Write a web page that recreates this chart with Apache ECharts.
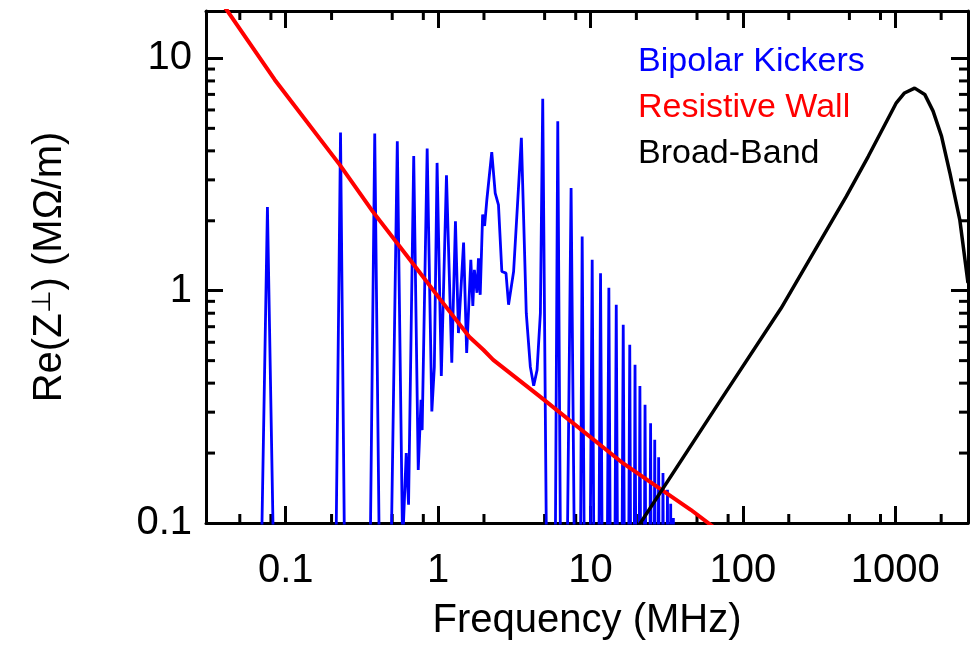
<!DOCTYPE html>
<html>
<head>
<meta charset="utf-8">
<script src="https://cdn.jsdelivr.net/npm/echarts@6/dist/echarts.min.js"></script>
<style>
html, body { margin: 0; padding: 0; background: #fff; }
#chart { width: 975px; height: 645px; }
</style>
</head>
<body>
<div id="chart"></div>
<script>
// Bipolar Kickers (MHz, MΩ/m)，谷值低于 0.1 的点会被坐标区裁掉
var kickerFreq = [0.0695, 0.0759, 0.083, 0.214, 0.229, 0.243, 0.359, 0.384, 0.411, 0.493, 0.540, 0.585,
  0.618, 0.64, 0.692, 0.741, 0.773, 0.786, 0.848, 0.910, 0.945, 0.985, 1.05, 1.135, 1.23, 1.30, 1.36,
  1.47, 1.54, 1.64, 1.69, 1.73, 1.80, 1.84, 1.89, 1.96, 2.02, 2.09, 2.14, 2.25, 2.37, 2.49, 2.62, 2.79,
  2.90, 3.13, 3.52, 3.79, 4.03, 4.24, 4.46, 4.69, 4.86, 5.14, 5.88, 6.10, 6.35, 7.05, 7.46, 7.83, 8.3,
  8.82, 9.51, 10.26, 10.93, 11.64, 12.4, 13.2, 13.96, 14.76, 15.56, 16.4, 17.23, 18.1, 18.84, 19.6,
  20.34, 21.1, 21.93, 22.8, 23.78, 24.8, 25.59, 26.4, 27.19, 28.0, 28.94, 29.9, 30.93, 32.0, 32.79,
  33.6, 34.29, 35.0, 35.7]
var kickerImp = [0.08, 2.29, 0.08, 0.08, 4.8, 0.08, 0.08, 4.75, 0.08, 0.08, 4.4, 0.08,
  0.2, 0.12, 3.8, 0.169, 0.339, 0.251, 4.09, 0.302, 0.47, 3.55, 0.43, 3.14, 0.49, 1.99, 0.657,
  1.61, 0.54, 1.36, 0.86, 1.23, 0.98, 1.38, 0.96, 2.13, 1.9, 2.47, 2.5, 3.95, 2.63, 2.34, 1.21, 1.19,
  0.87, 1.21, 4.55, 0.8, 0.47, 0.39, 0.455, 0.8, 6.7, 0.08, 0.08, 5.37, 0.08, 0.08, 2.77, 0.08, 0.001,
  1.71, 0.001, 1.36, 0.001, 1.19, 0.001, 1.03, 0.001, 0.87, 0.001, 0.713, 0.001, 0.585, 0.001, 0.48,
  0.001, 0.389, 0.001, 0.323, 0.001, 0.269, 0.001, 0.228, 0.001, 0.192, 0.001, 0.164, 0.001, 0.139, 0.001,
  0.121, 0.001, 0.105, 0.001]

// Resistive Wall
var wallFreq = [0.03, 0.0847, 0.226, 0.373, 0.695, 1.03, 1.6, 1.98, 2.3, 4.69, 16.5, 45.5, 70]
var wallImp = [21.8, 8.1, 3.49, 2.19, 1.29, 0.92, 0.634, 0.557, 0.504, 0.349, 0.18, 0.114, 0.092]

// Broad-Band
var bandFreq = [20, 71.6, 178, 476, 664, 941, 1016, 1150, 1340, 1560, 1770, 2010, 2280, 2650, 3000]
var bandImp = [0.094, 0.339, 0.84, 2.54, 3.78, 5.85, 6.44, 7.1, 7.45, 7.0, 5.93, 4.63, 3.22, 2.02, 1.08]

// 刻度
var xTickLabels = [0.1, 1, 10, 100, 1000]
var xMinorTicks = [0.05, 0.08, 0.2, 0.5, 0.8, 2, 5, 8, 20, 50, 80, 200, 500, 800, 2000]
var yTickLabels = [0.1, 1, 10]
var yMinorTicks = [0.2, 0.3, 0.4, 0.5, 0.6, 0.7, 0.8, 0.9, 2, 3, 4, 5, 6, 7, 8, 9]

var FONT = '"Liberation Sans", Arial, Helvetica, sans-serif'
var X_MIN = 0.03
var X_MAX = 3000
var Y_MIN = 0.1
var Y_MAX = 16

function pairs (xs, ys) {
  return xs.map(function (x, i) { return [x, ys[i]] })
}

function findLabel (list, v) {
  for (var i = 0; i < list.length; i++) {
    if (Math.abs(Math.log10(v) - Math.log10(list[i])) < 1e-6) return String(list[i])
  }
  return ''
}

// 边框轴：主刻度用自带的 axisTick（向内）
function frameAxis (dim, position) {
  return {
    type: 'log',
    logBase: 10,
    min: dim === 'x' ? X_MIN : Y_MIN,
    max: dim === 'x' ? X_MAX : Y_MAX,
    position: position,
    axisLine: { show: true, lineStyle: { color: '#000', width: 3 } },
    axisTick: { show: true, inside: true, length: 17, lineStyle: { color: '#000', width: 3 } },
    splitLine: { show: false },
    axisLabel: { show: false }
  }
}

var xBottom = frameAxis('x', 'bottom')
xBottom.axisLabel = {
  show: true,
  margin: 28,
  fontSize: 40,
  color: '#000',
  fontFamily: FONT,
  formatter: function (v) { return findLabel(xTickLabels, v) }
}
xBottom.name = 'Frequency (MHz)'
xBottom.nameLocation = 'middle'
xBottom.nameGap = 78
xBottom.nameTextStyle = { fontSize: 40, color: '#000', fontFamily: FONT }

var yLeft = frameAxis('y', 'left')
yLeft.axisLabel = {
  show: true,
  margin: 14,
  fontSize: 40,
  color: '#000',
  fontFamily: FONT,
  formatter: function (v) { return findLabel(yTickLabels, v) }
}
yLeft.name = '{n|Re(Z}{s|⊥}{n|) (MΩ/m)}'
yLeft.nameLocation = 'middle'
yLeft.nameGap = 136
yLeft.nameTextStyle = {
  color: '#000',
  fontFamily: FONT,
  rich: {
    n: { fontSize: 40, color: '#000', fontFamily: FONT },
    s: { fontSize: 26, color: '#000', fontFamily: FONT, verticalAlign: 'top' }
  }
}

var myChart = echarts.init(document.getElementById('chart'), null, { renderer: 'canvas' })

var option = {
  animation: false,
  backgroundColor: '#fff',
  textStyle: { fontFamily: FONT },
  grid: {
    left: 206,
    right: 7,
    top: 11,
    bottom: 122,
    containLabel: false,
    outerBoundsMode: 'none'
  },
  legend: {
    orient: 'vertical',
    left: 628,
    top: 40,
    icon: 'none',
    itemWidth: 0,
    itemHeight: 0,
    itemGap: 12,
    selectedMode: false,
    textStyle: { fontSize: 34, fontFamily: FONT },
    data: [
      { name: 'Bipolar Kickers', textStyle: { color: '#0000ff' } },
      { name: 'Resistive Wall', textStyle: { color: '#ff0000' } },
      { name: 'Broad-Band', textStyle: { color: '#000000' } }
    ]
  },
  xAxis: [xBottom, frameAxis('x', 'top')],
  yAxis: [yLeft, frameAxis('y', 'right')],
  series: [
    {
      name: 'Bipolar Kickers',
      type: 'line',
      data: pairs(kickerFreq, kickerImp),
      showSymbol: false,
      clip: true,
      lineStyle: { color: '#0000ff', width: 2.8 },
      itemStyle: { color: '#0000ff' },
      z: 3
    },
    {
      name: 'Resistive Wall',
      type: 'line',
      data: pairs(wallFreq, wallImp),
      showSymbol: false,
      clip: true,
      lineStyle: { color: '#ff0000', width: 4 },
      itemStyle: { color: '#ff0000' },
      z: 4
    },
    {
      name: 'Broad-Band',
      type: 'line',
      data: pairs(bandFreq, bandImp),
      showSymbol: false,
      clip: true,
      lineStyle: { color: '#000000', width: 3.5 },
      itemStyle: { color: '#000000' },
      z: 4
    }
  ]
}

myChart.setOption(option)

// 次刻度：四边向内的短线，位置由坐标轴换算
var finder = { xAxisIndex: 0, yAxisIndex: 0 }
var tl = myChart.convertToPixel(finder, [X_MIN, Y_MAX])
var br = myChart.convertToPixel(finder, [X_MAX, Y_MIN])
var minorEls = []

function tickLine (x1, y1, x2, y2) {
  minorEls.push({
    type: 'line',
    shape: { x1: x1, y1: y1, x2: x2, y2: y2 },
    style: { stroke: '#000', lineWidth: 3 }
  })
}

xMinorTicks.forEach(function (v) {
  var px = myChart.convertToPixel(finder, [v, Y_MIN])[0]
  tickLine(px, br[1], px, br[1] - 9)
  tickLine(px, tl[1], px, tl[1] + 9)
})
yMinorTicks.forEach(function (v) {
  var py = myChart.convertToPixel(finder, [X_MIN, v])[1]
  tickLine(tl[0], py, tl[0] + 9, py)
  tickLine(br[0], py, br[0] - 9, py)
})

myChart.setOption({ graphic: minorEls })
</script>
</body>
</html>
